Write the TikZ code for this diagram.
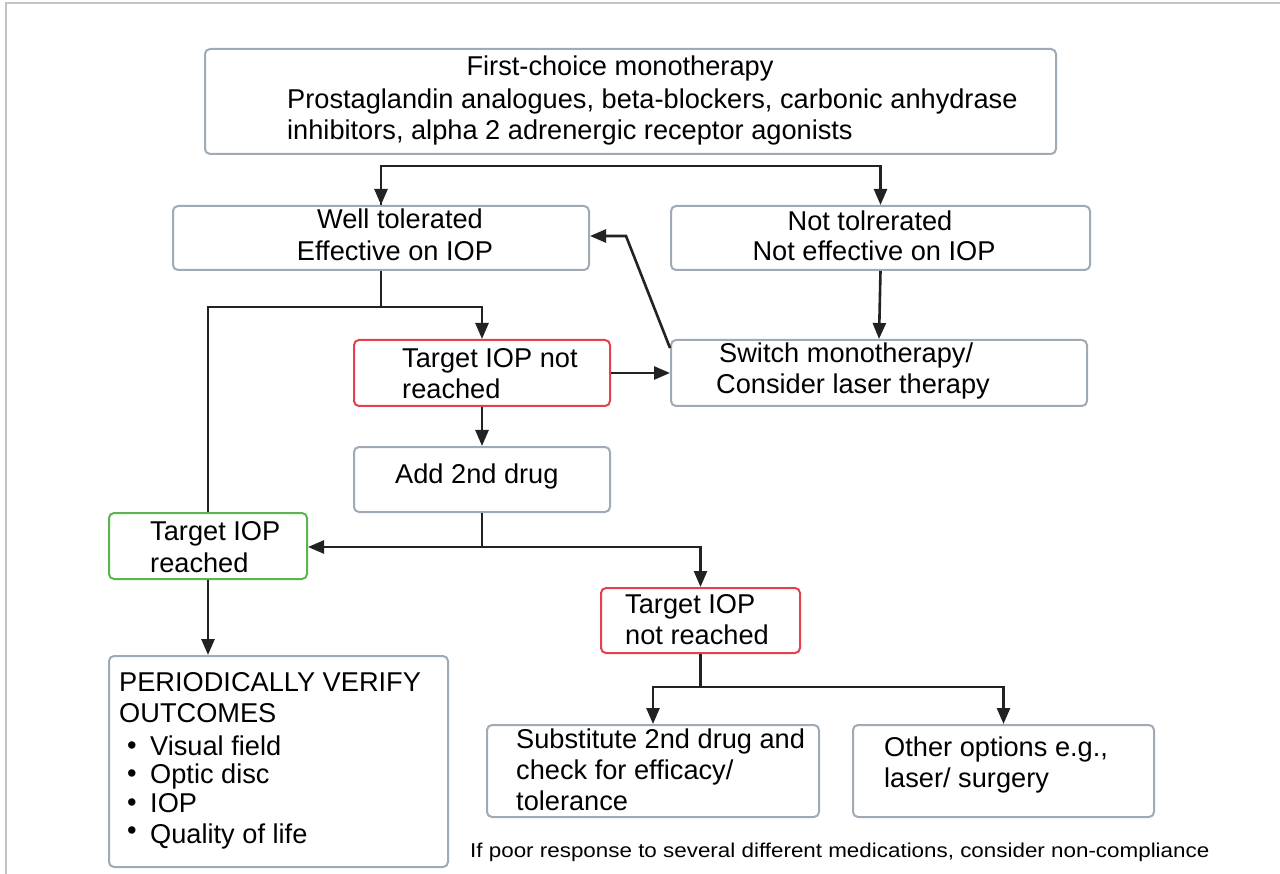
\documentclass[tikz,border=0pt]{standalone}
\usepackage{fontspec}
\usepackage{graphicx}
\setmainfont{Liberation Sans}
\usetikzlibrary{arrows.meta,calc}
\definecolor{boxgray}{HTML}{A0AAB4}
\definecolor{boxred}{HTML}{E5404E}
\definecolor{boxgreen}{HTML}{5DB552}
\definecolor{framegray}{HTML}{C4C4C4}
\definecolor{linecol}{HTML}{222222}
\begin{document}
\begin{tikzpicture}[x=1pt,y=-1pt,
  box/.style={draw=boxgray,line width=2pt,rounded corners=5pt,fill=white,inner sep=0pt,anchor=north west},
  redbox/.style={box,draw=boxred},
  greenbox/.style={box,draw=boxgreen},
  txt/.style={inner sep=0pt,font=\fontsize{27.2}{31}\selectfont,anchor=base west},
  ctxt/.style={txt,anchor=base},
  arr/.style={draw=linecol,line width=2.6pt,-{Triangle[length=16pt,width=13pt]}},
  ln/.style={draw=linecol,line width=2.6pt}]
\useasboundingbox (0,0) rectangle (1280,874);
\fill[white] (0,0) rectangle (1280,874);
\draw[framegray,line width=1.2pt] (6,874) -- (6,3) -- (1280,3);
% boxes
\node[box,minimum width=851pt,minimum height=105pt] (top) at (204,48) {};
\node[box,minimum width=416pt,minimum height=64pt] (well) at (172,205) {};
\node[box,minimum width=419pt,minimum height=64pt] (nottol) at (670,205) {};
\node[redbox,minimum width=256pt,minimum height=66pt] (red1) at (353,339) {};
\node[box,minimum width=416pt,minimum height=66pt] (switch) at (670,339) {};
\node[box,minimum width=256pt,minimum height=65pt] (add) at (353,446) {};
\node[greenbox,minimum width=198pt,minimum height=66pt] (green) at (108,512) {};
\node[redbox,minimum width=199pt,minimum height=65pt] (red2) at (600,587) {};
\node[box,minimum width=339pt,minimum height=211pt] (period) at (108,655) {};
\node[box,minimum width=332pt,minimum height=92pt] (subst) at (486,724) {};
\node[box,minimum width=301pt,minimum height=92pt] (other) at (852,724) {};
% texts
\node[ctxt] (t1) at (620,76) {First-choice monotherapy};
\node[txt] (t2) at (287,109) {Prostaglandin analogues, beta-blockers, carbonic anhydrase};
\node[txt] (t3) at (287,140) {inhibitors, alpha 2 adrenergic receptor agonists};
\node[ctxt] (w1) at (400,229) {Well tolerated};
\node[ctxt] (w2) at (395,261) {Effective on IOP};
\node[ctxt] (n1) at (870,231) {Not tolrerated};
\node[ctxt] (n2) at (874,261) {Not effective on IOP};
\node[txt] (r1a) at (402,368) {Target IOP not};
\node[txt] (r1b) at (402,399) {reached};
\node[txt] (s1) at (719,363) {Switch monotherapy/};
\node[txt] (s2) at (716,394) {Consider laser therapy};
\node[txt] (a1) at (395,483) {Add 2nd drug};
\node[txt] (g1) at (150,540) {Target IOP};
\node[txt] (g2) at (150,572) {reached};
\node[txt] (r2a) at (625,613) {Target IOP};
\node[txt] (r2b) at (625,644) {not reached};
\node[txt] (p1) at (119,691) {PERIODICALLY VERIFY};
\node[txt] (p2) at (119,722) {OUTCOMES};
\node[txt] (b3) at (127,754) {\textbullet};
\node[txt] (b4) at (127,782) {\textbullet};
\node[txt] (b5) at (127,811) {\textbullet};
\node[txt] (b6) at (127,839) {\textbullet};
\node[txt] (p3) at (150,755) {Visual field};
\node[txt] (p4) at (150,783) {Optic disc};
\node[txt] (p5) at (150,812) {IOP};
\node[txt] (p6) at (150,843) {Quality of life};
\node[txt] (u1) at (516,748) {Substitute 2nd drug and};
\node[txt] (u2) at (516,779) {check for efficacy/};
\node[txt] (u3) at (516,810) {tolerance};
\node[txt] (o1) at (884,756) {Other options e.g.,};
\node[txt] (o2) at (884,787) {laser/ surgery};
\node[inner sep=0pt,anchor=base west] (foot) at (470,857) {\scalebox{1.12}[1]{\fontsize{20}{24}\selectfont If poor response to several different medications, consider non-compliance}};
% connectors
\draw[arr] (well.north) -- ++(0,-39) coordinate (bl) -| (nottol.north);
\draw[arr] (bl) -- (well.north);
\draw[ln] (well.south) -- ++(0,36) coordinate (j1);
\draw[arr] (j1) -| (red1.north);
\draw[ln] (j1) -| (green.north);
\draw[arr] (nottol.south) -- (switch.north);
\draw[arr] (red1.east) -- (switch.west);
\draw[arr] ($(switch.north west)+(0,9)$) -- ++(-44,-112) coordinate (k1) -- (k1 -| well.east);
\draw[arr] (red1.south) -- (add.north);
\draw[ln] (add.south) -- ++(0,34) coordinate (j2);
\draw[arr] (j2) -- (j2 -| green.east);
\draw[arr] (j2) -| (red2.north);
\draw[ln] (red2.south) -- ++(0,33) coordinate (j3);
\draw[arr] (j3) -| (subst.north);
\draw[arr] (j3) -| (other.north);
\draw[arr] (green.south) -- (green.south |- period.north);
\end{tikzpicture}
\end{document}
